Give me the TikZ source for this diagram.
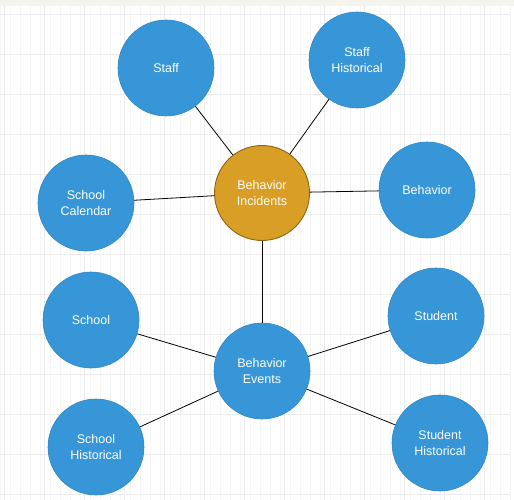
\documentclass[tikz,border=0pt]{standalone}
\usepackage{fontspec}
\setmainfont{Liberation Sans}
\definecolor{bluefill}{HTML}{3796D8}
\definecolor{blueline}{HTML}{2F86C4}
\definecolor{goldfill}{HTML}{D99E26}
\definecolor{goldline}{HTML}{8A6412}
\definecolor{gridminor}{HTML}{F5F5F5}
\definecolor{gridmajor}{HTML}{ECECEC}
\definecolor{topband}{HTML}{F4F3EE}
\tikzset{
  ent/.style={circle, minimum size=96pt, inner sep=0pt, fill=bluefill, draw=blueline, line width=0.6pt,
    text=white, font=\fontsize{12.5pt}{16pt}\selectfont, align=center},
  hub/.style={ent, minimum size=95pt, fill=goldfill, draw=goldline, line width=0.9pt},
  link/.style={draw=black, line width=0.8pt}
}
\begin{document}
\begin{tikzpicture}[x=1pt,y=-1pt]
\useasboundingbox (0,0) rectangle (514,500);
\fill[white] (0,0) rectangle (514,500);
\draw[gridminor, line width=0.4pt] (0,6) grid[step=10] (510,500);
\foreach \x in {4,44,...,504} \draw[gridmajor, line width=0.5pt] (\x,6) -- (\x,500);
\foreach \y in {14,54,...,494} \draw[gridmajor, line width=0.5pt] (0,\y) -- (510,\y);
\fill[topband] (0,0) rectangle (514,6);

\node[hub] (bi) at (262,193) {Behavior\\Incidents};
\node[ent] (be) at (262,371) {Behavior\\Events};
\node[ent] (staff) at (166,68) {Staff};
\node[ent] (staffh) at (357,60) {Staff\\Historical};
\node[ent] (behav) at (427,190) {Behavior};
\node[ent] (cal) at (86,203) {School\\Calendar};
\node[ent] (school) at (91,320) {School};
\node[ent] (student) at (436,316) {Student};
\node[ent] (schoolh) at (96,447) {School\\Historical};
\node[ent] (studenth) at (440,443) {Student\\Historical};

\draw[link] (staff) -- (bi);
\draw[link] (staffh) -- (bi);
\draw[link] (cal) -- (bi);
\draw[link] (behav) -- (bi);
\draw[link] (bi) -- (be);
\draw[link] (school) -- (be);
\draw[link] (student) -- (be);
\draw[link] (schoolh) -- (be);
\draw[link] (studenth) -- (be);
\end{tikzpicture}
\end{document}
